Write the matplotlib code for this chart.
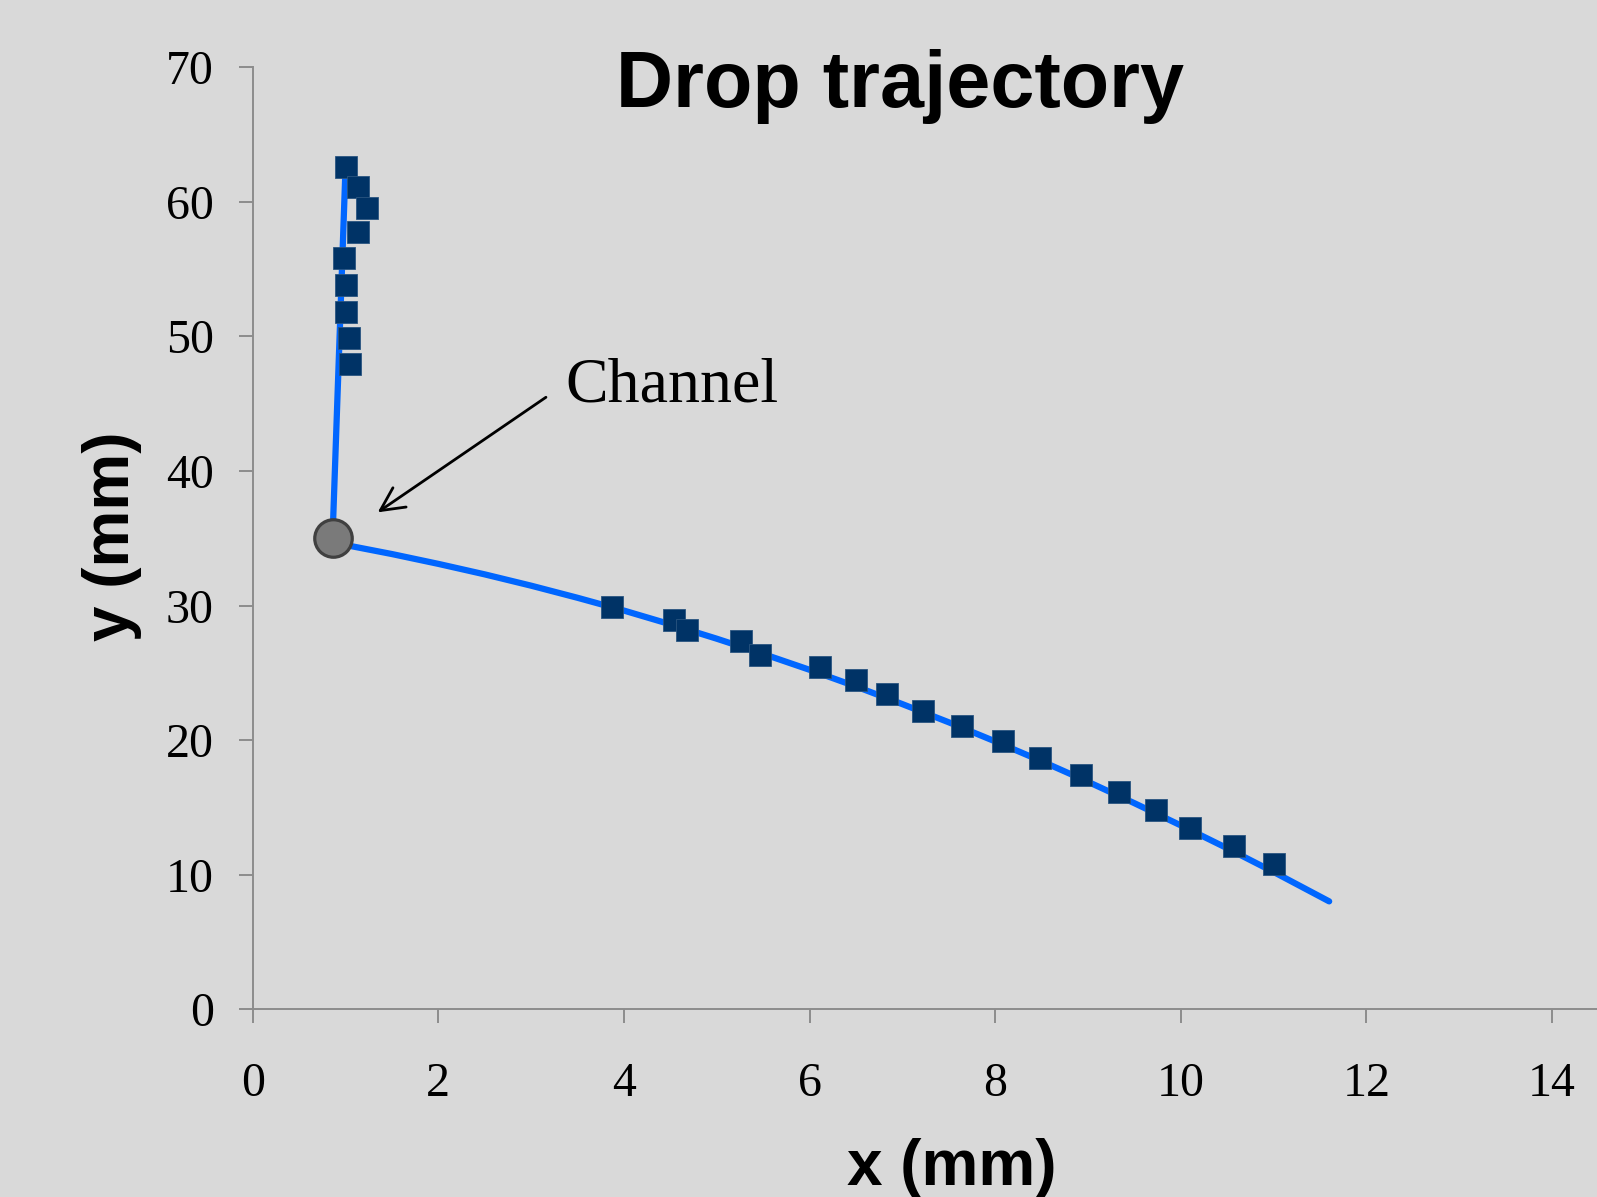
import matplotlib
matplotlib.use("Agg")
import matplotlib.pyplot as plt

# measured drop positions (mm)
upper_x = [1.00, 1.13, 1.23, 1.13, 0.98, 1.00, 1.01, 1.04, 1.05]
upper_y = [62.57, 61.13, 59.56, 57.78, 55.80, 53.82, 51.80, 49.86, 47.95]

lower_x = [3.875, 4.54, 4.68, 5.258, 5.47, 6.116, 6.505, 6.838, 7.22, 7.647,
           8.088, 8.487, 8.922, 9.338, 9.73, 10.10, 10.574, 11.01]
lower_y = [29.87, 28.95, 28.16, 27.39, 26.33, 25.41, 24.47, 23.43, 22.17, 21.07,
           19.94, 18.70, 17.41, 16.12, 14.83, 13.47, 12.11, 10.80]

# fitted trajectory line
fit_x = [1.00, 0.86, 0.86, 1.0, 1.5, 2.0, 2.5, 3.0, 3.5, 4.0, 4.5, 5.0, 5.5,
         6.0, 6.5, 7.0, 7.5, 8.0, 8.5, 9.0, 9.5, 10.0, 10.5, 11.0, 11.6]
fit_y = [62.5, 35.0, 34.67, 34.50, 33.83, 33.10, 32.32, 31.48, 30.58, 29.63,
         28.61, 27.54, 26.41, 25.23, 23.99, 22.68, 21.33, 19.91, 18.44, 16.91,
         15.32, 13.67, 11.97, 10.21, 8.02]

# channel exit
channel_x = [0.86]
channel_y = [35.0]

xticks = [0, 2, 4, 6, 8, 10, 12, 14]
yticks = [0, 10, 20, 30, 40, 50, 60, 70]

bg = "#d9d9d9"
W, H = 1597, 1197

fig = plt.figure(figsize=(W / 100, H / 100), dpi=100, facecolor=bg)
x0, x_right = 252.7, W
y_bot, y_top = 1009.3, 67.3
ax = fig.add_axes([x0 / W, 1 - y_bot / H, (x_right - x0) / W, (y_bot - y_top) / H])
ax.set_facecolor(bg)

ax.plot(fit_x, fit_y, color="#0066ff", lw=4.5, solid_capstyle="round",
        solid_joinstyle="round", zorder=2)
ax.plot(upper_x + lower_x, upper_y + lower_y, ls="none", marker="s", ms=16.5,
        color="#003366", mec="#2a5580", mew=0.6, zorder=3)
ax.plot(channel_x, channel_y, ls="none", marker="o", ms=27, color="#7a7a7a",
        mec="#404040", mew=2.3, zorder=4)

ax.set_xlim(0, (x_right - x0) / 92.8)
ax.set_ylim(0, 70)
ax.set_xticks(xticks)
ax.set_yticks(yticks)
ax.set_xticklabels([str(t) for t in xticks])
ax.set_yticklabels([str(t) for t in yticks])

for s in ["top", "right"]:
    ax.spines[s].set_visible(False)
for s in ["left", "bottom"]:
    ax.spines[s].set_color("#8c8c8c")
    ax.spines[s].set_linewidth(1.4)

ax.tick_params(axis="both", direction="out", length=10, width=1.4, color="#8c8c8c",
               labelsize=34.5, labelcolor="black")
ax.tick_params(axis="x", pad=28)
ax.tick_params(axis="y", pad=18)
for lab in ax.get_xticklabels() + ax.get_yticklabels():
    lab.set_fontfamily("Liberation Serif")

# arrow pointing at the channel
ax.annotate("", xy=(1.347, 36.93), xytext=(3.16, 45.48),
            arrowprops=dict(arrowstyle="->", lw=2.0, color="black",
                            mutation_scale=42, shrinkA=0, shrinkB=0))
ax.text(3.365, 45.2, "Channel", fontsize=46, family="Liberation Serif",
        ha="left", va="baseline")

fig.text(900 / W, 1 - 107.3 / H, "Drop trajectory", fontsize=57, fontweight="bold",
         family="Liberation Sans", ha="center", va="baseline")
fig.text(952 / W, 1 - 1185 / H, "x (mm)", fontsize=46, fontweight="bold",
         family="Liberation Sans", ha="center", va="baseline")
fig.text(112 / W, 1 - 536.7 / H, "y (mm)", fontsize=46, fontweight="bold",
         family="Liberation Sans", ha="center", va="center", rotation=90)

fig.savefig("out.png", dpi=100, facecolor=bg)
